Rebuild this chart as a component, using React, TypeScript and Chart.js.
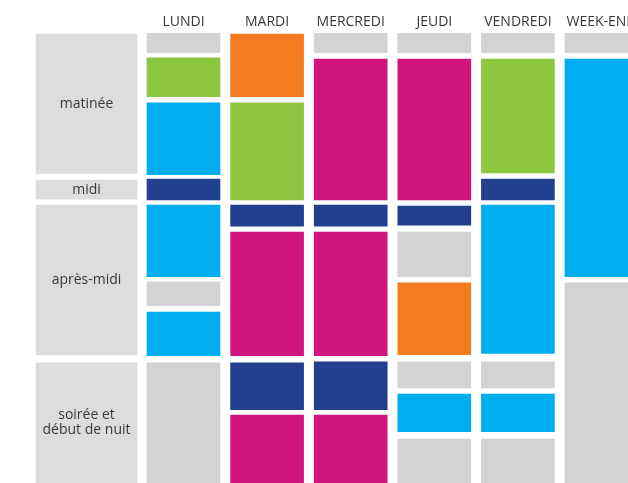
import { useEffect, useRef } from 'react';
import { Chart, registerables } from 'chart.js';

Chart.register(...registerables);

// Column headers (days)
const DAYS = ['LUNDI', 'MARDI', 'MERCREDI', 'JEUDI', 'VENDREDI', 'WEEK-END'];

// Row labels (parts of the day) and their time spans (hours)
const PERIODS = ['matinée', 'midi', 'après-midi', 'soirée et\ndébut de nuit'];
const PERIOD_RANGES: [number, number][] = [
  [8.03, 12.06],
  [12.25, 12.8],
  [12.97, 17.3],
  [17.53, 21],
];

// Blocks per day: [start hour, end hour, activity]
type Block = [number, number, string];
const LUNDI: Block[] = [
  [8.0, 8.57, 'gris'],
  [8.72, 9.84, 'vert'],
  [10.02, 12.09, 'bleu'],
  [12.22, 12.82, 'marine'],
  [12.97, 15.04, 'bleu'],
  [15.19, 15.88, 'gris'],
  [16.06, 17.32, 'bleu'],
  [17.53, 21, 'gris'],
];
const MARDI: Block[] = [
  [8.03, 9.84, 'orange'],
  [10.02, 12.82, 'vert'],
  [12.97, 13.58, 'marine'],
  [13.75, 17.32, 'magenta'],
  [17.53, 18.88, 'marine'],
  [19.04, 21, 'magenta'],
];
const MERCREDI: Block[] = [
  [8.0, 8.57, 'gris'],
  [8.75, 12.82, 'magenta'],
  [12.97, 13.58, 'marine'],
  [13.75, 17.32, 'magenta'],
  [17.5, 18.88, 'marine'],
  [19.04, 21, 'magenta'],
];
const JEUDI: Block[] = [
  [8.0, 8.57, 'gris'],
  [8.75, 12.82, 'magenta'],
  [13.0, 13.55, 'marine'],
  [13.75, 15.04, 'gris'],
  [15.22, 17.29, 'orange'],
  [17.5, 18.25, 'gris'],
  [18.43, 19.52, 'bleu'],
  [19.73, 21, 'gris'],
];
const VENDREDI: Block[] = [
  [8.0, 8.57, 'gris'],
  [8.75, 12.04, 'vert'],
  [12.22, 12.82, 'marine'],
  [12.97, 17.26, 'bleu'],
  [17.5, 18.25, 'gris'],
  [18.43, 19.52, 'bleu'],
  [19.73, 21, 'gris'],
];
const WEEKEND: Block[] = [
  [8.0, 8.57, 'gris'],
  [8.75, 15.04, 'bleu'],
  [15.22, 21, 'gris'],
];
const WEEK: Block[][] = [LUNDI, MARDI, MERCREDI, JEUDI, VENDREDI, WEEKEND];

const COLORS: Record<string, string> = {
  gris: '#d1d3d4',
  vert: '#8dc63f',
  orange: '#f47b20',
  bleu: '#00aeef',
  magenta: '#d2157e',
  marine: '#23408e',
};
const PERIOD_COLOR = '#dcdddf';
const TEXT_COLOR = '#383838';
const FONT_FAMILY = "'Open Sans', sans-serif";

const LABEL_COLUMN_X = -0.16;

const periodLabels = {
  id: 'periodLabels',
  afterDatasetsDraw(chart: any) {
    const meta = chart.getDatasetMeta(0);
    const ctx = chart.ctx as CanvasRenderingContext2D;
    ctx.save();
    ctx.font = `14px ${FONT_FAMILY}`;
    ctx.fillStyle = TEXT_COLOR;
    ctx.textAlign = 'center';
    ctx.textBaseline = 'middle';
    meta.data.forEach((el: any, i: number) => {
      const { x, y, base } = el.getProps(['x', 'y', 'base'], true);
      const lines = PERIODS[i].split('\n');
      const cy = (y + base) / 2;
      const lh = 15;
      lines.forEach((ln: string, j: number) => {
        ctx.fillText(ln, x, cy + (j - (lines.length - 1) / 2) * lh);
      });
    });
    ctx.restore();
  },
};

export default function App() {
  const ref = useRef<HTMLCanvasElement | null>(null);

  useEffect(() => {
    if (!ref.current) return;
    const activityDatasets = Object.keys(COLORS).map((k) => ({
      label: k,
      data: WEEK.flatMap((blocks, d) =>
        blocks.filter((b) => b[2] === k).map((b) => ({ x: d + 1, y: [b[0], b[1]] }))
      ),
      backgroundColor: COLORS[k],
      barThickness: 73,
      stack: 's',
      borderWidth: 0,
    }));
    const periodDataset = {
      label: 'périodes',
      data: PERIOD_RANGES.map((r) => ({ x: LABEL_COLUMN_X, y: r })),
      backgroundColor: PERIOD_COLOR,
      barThickness: 101,
      stack: 's',
      borderWidth: 0,
    };
    const chart = new Chart(ref.current, {
      type: 'bar',
      data: { datasets: [periodDataset, ...activityDatasets] as any },
      options: {
        animation: false,
        responsive: true,
        maintainAspectRatio: false,
        layout: { padding: 0 },
        plugins: { legend: { display: false }, tooltip: { enabled: false } },
        scales: {
          x: {
            type: 'linear',
            position: 'top',
            offset: false,
            min: -1.195,
            max: 6.317,
            grid: { display: false, drawTicks: false },
            border: { display: false },
            afterBuildTicks: (scale: any) => {
              scale.ticks = DAYS.map((_, i) => ({ value: i + 1 }));
            },
            afterFit: (scale: any) => {
              scale.height = 33;
              scale.paddingLeft = 0;
              scale.paddingRight = 0;
            },
            ticks: {
              autoSkip: false,
              maxRotation: 0,
              minRotation: 0,
              padding: 3,
              color: TEXT_COLOR,
              font: { family: FONT_FAMILY, size: 14 },
              callback: (v: any) => DAYS[Number(v) - 1] ?? '',
            },
          },
          y: {
            type: 'linear',
            display: false,
            reverse: true,
            min: 8,
            max: 21,
            stacked: false,
          },
        },
      },
      plugins: [periodLabels],
    });
    return () => chart.destroy();
  }, []);

  return (
    <div style={{ position: 'fixed', left: 0, top: 0, width: 628, height: 483 }}>
      <canvas ref={ref} />
    </div>
  );
}
